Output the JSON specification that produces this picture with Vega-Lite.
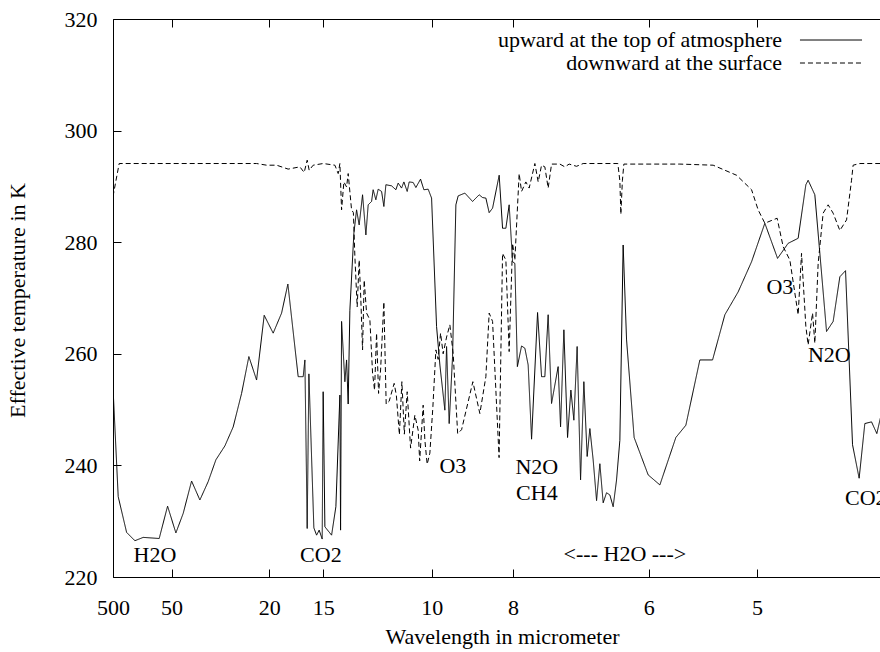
{
  "$schema": "https://vega.github.io/schema/vega-lite/v6.json",
  "width": 768,
  "height": 558,
  "autosize": {"type": "none"},
  "padding": {"left": 113, "top": 19, "right": 0, "bottom": 75},
  "background": "white",
  "config": {
    "view": {"stroke": "black", "strokeWidth": 1},
    "font": "Liberation Serif",
    "axis": {
      "labelFont": "Liberation Serif", "titleFont": "Liberation Serif",
      "labelFontSize": 22, "titleFontSize": 22, "titleFontWeight": "normal",
      "labelColor": "black", "titleColor": "black", "tickColor": "black", "domainColor": "black",
      "grid": false, "tickSize": -8, "domain": false
    },
    "text": {"font": "Liberation Serif", "fontSize": 22, "color": "black"}
  },
  "datasets": {
    "curves": [
      {"series": "upward at the top of atmosphere", "wn": 20, "T": 254},
      {"series": "upward at the top of atmosphere", "wn": 36, "T": 234.4},
      {"series": "upward at the top of atmosphere", "wn": 61.8, "T": 228},
      {"series": "upward at the top of atmosphere", "wn": 87.3, "T": 226.5},
      {"series": "upward at the top of atmosphere", "wn": 112.8, "T": 227.1},
      {"series": "upward at the top of atmosphere", "wn": 162, "T": 226.9},
      {"series": "upward at the top of atmosphere", "wn": 187.8, "T": 232.7},
      {"series": "upward at the top of atmosphere", "wn": 213.3, "T": 227.9},
      {"series": "upward at the top of atmosphere", "wn": 235.8, "T": 231.4},
      {"series": "upward at the top of atmosphere", "wn": 261.6, "T": 237.2},
      {"series": "upward at the top of atmosphere", "wn": 287.1, "T": 233.8},
      {"series": "upward at the top of atmosphere", "wn": 312.6, "T": 237.1},
      {"series": "upward at the top of atmosphere", "wn": 336.3, "T": 241},
      {"series": "upward at the top of atmosphere", "wn": 364, "T": 243.5},
      {"series": "upward at the top of atmosphere", "wn": 389.5, "T": 246.9},
      {"series": "upward at the top of atmosphere", "wn": 415.3, "T": 252.9},
      {"series": "upward at the top of atmosphere", "wn": 437.7, "T": 259.5},
      {"series": "upward at the top of atmosphere", "wn": 461.4, "T": 255.3},
      {"series": "upward at the top of atmosphere", "wn": 484.8, "T": 266.9},
      {"series": "upward at the top of atmosphere", "wn": 512.4, "T": 263.7},
      {"series": "upward at the top of atmosphere", "wn": 538.3, "T": 267.3},
      {"series": "upward at the top of atmosphere", "wn": 557.6, "T": 272.5},
      {"series": "upward at the top of atmosphere", "wn": 589.3, "T": 255.9},
      {"series": "upward at the top of atmosphere", "wn": 604.7, "T": 255.9},
      {"series": "upward at the top of atmosphere", "wn": 609.9, "T": 258.9},
      {"series": "upward at the top of atmosphere", "wn": 617, "T": 228.7},
      {"series": "upward at the top of atmosphere", "wn": 622.2, "T": 256.4},
      {"series": "upward at the top of atmosphere", "wn": 637.5, "T": 228.8},
      {"series": "upward at the top of atmosphere", "wn": 645.9, "T": 227.5},
      {"series": "upward at the top of atmosphere", "wn": 653.8, "T": 228.4},
      {"series": "upward at the top of atmosphere", "wn": 663.1, "T": 226.8},
      {"series": "upward at the top of atmosphere", "wn": 666.1, "T": 253.2},
      {"series": "upward at the top of atmosphere", "wn": 671.4, "T": 229},
      {"series": "upward at the top of atmosphere", "wn": 692, "T": 227.5},
      {"series": "upward at the top of atmosphere", "wn": 705.2, "T": 232.6},
      {"series": "upward at the top of atmosphere", "wn": 717.5, "T": 252.6},
      {"series": "upward at the top of atmosphere", "wn": 719.6, "T": 228.4},
      {"series": "upward at the top of atmosphere", "wn": 722.7, "T": 265.8},
      {"series": "upward at the top of atmosphere", "wn": 732.8, "T": 255},
      {"series": "upward at the top of atmosphere", "wn": 738.1, "T": 258.9},
      {"series": "upward at the top of atmosphere", "wn": 743, "T": 251},
      {"series": "upward at the top of atmosphere", "wn": 748.2, "T": 267.8},
      {"series": "upward at the top of atmosphere", "wn": 760.5, "T": 281.6},
      {"series": "upward at the top of atmosphere", "wn": 768.8, "T": 285.8},
      {"series": "upward at the top of atmosphere", "wn": 776.8, "T": 283.1},
      {"series": "upward at the top of atmosphere", "wn": 787.2, "T": 288.5},
      {"series": "upward at the top of atmosphere", "wn": 797.4, "T": 281.3},
      {"series": "upward at the top of atmosphere", "wn": 804.5, "T": 286.7},
      {"series": "upward at the top of atmosphere", "wn": 814.9, "T": 287.3},
      {"series": "upward at the top of atmosphere", "wn": 819.8, "T": 289.4},
      {"series": "upward at the top of atmosphere", "wn": 828.1, "T": 287.6},
      {"series": "upward at the top of atmosphere", "wn": 835.2, "T": 289.5},
      {"series": "upward at the top of atmosphere", "wn": 845.7, "T": 289.1},
      {"series": "upward at the top of atmosphere", "wn": 852.7, "T": 286.4},
      {"series": "upward at the top of atmosphere", "wn": 858.9, "T": 290.3},
      {"series": "upward at the top of atmosphere", "wn": 876.4, "T": 290.1},
      {"series": "upward at the top of atmosphere", "wn": 889.6, "T": 289.4},
      {"series": "upward at the top of atmosphere", "wn": 896.7, "T": 290.6},
      {"series": "upward at the top of atmosphere", "wn": 907.1, "T": 289.7},
      {"series": "upward at the top of atmosphere", "wn": 914.2, "T": 290.8},
      {"series": "upward at the top of atmosphere", "wn": 924.4, "T": 289.1},
      {"series": "upward at the top of atmosphere", "wn": 930.5, "T": 290.8},
      {"series": "upward at the top of atmosphere", "wn": 942.8, "T": 290.7},
      {"series": "upward at the top of atmosphere", "wn": 951.1, "T": 289.8},
      {"series": "upward at the top of atmosphere", "wn": 965.5, "T": 291.3},
      {"series": "upward at the top of atmosphere", "wn": 975.7, "T": 289.4},
      {"series": "upward at the top of atmosphere", "wn": 988.9, "T": 289.5},
      {"series": "upward at the top of atmosphere", "wn": 999.4, "T": 287.9},
      {"series": "upward at the top of atmosphere", "wn": 1014.7, "T": 264.9},
      {"series": "upward at the top of atmosphere", "wn": 1024.9, "T": 258},
      {"series": "upward at the top of atmosphere", "wn": 1040.2, "T": 249.9},
      {"series": "upward at the top of atmosphere", "wn": 1045.5, "T": 261.3},
      {"series": "upward at the top of atmosphere", "wn": 1053.5, "T": 247.5},
      {"series": "upward at the top of atmosphere", "wn": 1063.9, "T": 259.5},
      {"series": "upward at the top of atmosphere", "wn": 1074.1, "T": 286.7},
      {"series": "upward at the top of atmosphere", "wn": 1081.1, "T": 288.3},
      {"series": "upward at the top of atmosphere", "wn": 1101.7, "T": 288.8},
      {"series": "upward at the top of atmosphere", "wn": 1125.4, "T": 287.3},
      {"series": "upward at the top of atmosphere", "wn": 1145.7, "T": 288.5},
      {"series": "upward at the top of atmosphere", "wn": 1156.1, "T": 288},
      {"series": "upward at the top of atmosphere", "wn": 1166.3, "T": 287.9},
      {"series": "upward at the top of atmosphere", "wn": 1176.4, "T": 285.3},
      {"series": "upward at the top of atmosphere", "wn": 1186.9, "T": 286.1},
      {"series": "upward at the top of atmosphere", "wn": 1207.2, "T": 292},
      {"series": "upward at the top of atmosphere", "wn": 1217.6, "T": 282.5},
      {"series": "upward at the top of atmosphere", "wn": 1227.8, "T": 282.5},
      {"series": "upward at the top of atmosphere", "wn": 1237.9, "T": 286.7},
      {"series": "upward at the top of atmosphere", "wn": 1248.4, "T": 276.5},
      {"series": "upward at the top of atmosphere", "wn": 1255.4, "T": 276.2},
      {"series": "upward at the top of atmosphere", "wn": 1263.1, "T": 257.7},
      {"series": "upward at the top of atmosphere", "wn": 1276, "T": 261.4},
      {"series": "upward at the top of atmosphere", "wn": 1286.2, "T": 261},
      {"series": "upward at the top of atmosphere", "wn": 1296.3, "T": 258},
      {"series": "upward at the top of atmosphere", "wn": 1306.8, "T": 244.7},
      {"series": "upward at the top of atmosphere", "wn": 1325.2, "T": 267.4},
      {"series": "upward at the top of atmosphere", "wn": 1337.5, "T": 255.9},
      {"series": "upward at the top of atmosphere", "wn": 1347.6, "T": 255.9},
      {"series": "upward at the top of atmosphere", "wn": 1357.8, "T": 267},
      {"series": "upward at the top of atmosphere", "wn": 1368.2, "T": 251.1},
      {"series": "upward at the top of atmosphere", "wn": 1388.5, "T": 257.7},
      {"series": "upward at the top of atmosphere", "wn": 1395.9, "T": 246.9},
      {"series": "upward at the top of atmosphere", "wn": 1406.1, "T": 264.3},
      {"series": "upward at the top of atmosphere", "wn": 1417.4, "T": 245},
      {"series": "upward at the top of atmosphere", "wn": 1427.6, "T": 253.5},
      {"series": "upward at the top of atmosphere", "wn": 1436.8, "T": 248.1},
      {"series": "upward at the top of atmosphere", "wn": 1446.9, "T": 261.3},
      {"series": "upward at the top of atmosphere", "wn": 1457.4, "T": 237.4},
      {"series": "upward at the top of atmosphere", "wn": 1467.5, "T": 255},
      {"series": "upward at the top of atmosphere", "wn": 1477.7, "T": 241.6},
      {"series": "upward at the top of atmosphere", "wn": 1486, "T": 246.6},
      {"series": "upward at the top of atmosphere", "wn": 1496.1, "T": 241},
      {"series": "upward at the top of atmosphere", "wn": 1506.6, "T": 233.7},
      {"series": "upward at the top of atmosphere", "wn": 1516.7, "T": 240.3},
      {"series": "upward at the top of atmosphere", "wn": 1526.9, "T": 233.3},
      {"series": "upward at the top of atmosphere", "wn": 1537.3, "T": 235.1},
      {"series": "upward at the top of atmosphere", "wn": 1547.5, "T": 234.7},
      {"series": "upward at the top of atmosphere", "wn": 1557.6, "T": 232.6},
      {"series": "upward at the top of atmosphere", "wn": 1568, "T": 237.4},
      {"series": "upward at the top of atmosphere", "wn": 1578.2, "T": 244.5},
      {"series": "upward at the top of atmosphere", "wn": 1588.3, "T": 279.5},
      {"series": "upward at the top of atmosphere", "wn": 1598.8, "T": 262.5},
      {"series": "upward at the top of atmosphere", "wn": 1622.1, "T": 245},
      {"series": "upward at the top of atmosphere", "wn": 1665.2, "T": 238.3},
      {"series": "upward at the top of atmosphere", "wn": 1701.2, "T": 236.5},
      {"series": "upward at the top of atmosphere", "wn": 1750.3, "T": 245},
      {"series": "upward at the top of atmosphere", "wn": 1781.1, "T": 247.2},
      {"series": "upward at the top of atmosphere", "wn": 1824.1, "T": 258.9},
      {"series": "upward at the top of atmosphere", "wn": 1863.2, "T": 258.9},
      {"series": "upward at the top of atmosphere", "wn": 1901, "T": 267},
      {"series": "upward at the top of atmosphere", "wn": 1941.9, "T": 271.1},
      {"series": "upward at the top of atmosphere", "wn": 1983.1, "T": 276.5},
      {"series": "upward at the top of atmosphere", "wn": 2023.9, "T": 283.4},
      {"series": "upward at the top of atmosphere", "wn": 2063, "T": 277.1},
      {"series": "upward at the top of atmosphere", "wn": 2095.5, "T": 279.8},
      {"series": "upward at the top of atmosphere", "wn": 2126.3, "T": 280.7},
      {"series": "upward at the top of atmosphere", "wn": 2150, "T": 290.3},
      {"series": "upward at the top of atmosphere", "wn": 2157, "T": 291.1},
      {"series": "upward at the top of atmosphere", "wn": 2177.6, "T": 288.5},
      {"series": "upward at the top of atmosphere", "wn": 2213.6, "T": 264},
      {"series": "upward at the top of atmosphere", "wn": 2233.9, "T": 265.8},
      {"series": "upward at the top of atmosphere", "wn": 2254.5, "T": 273.8},
      {"series": "upward at the top of atmosphere", "wn": 2272, "T": 274.9},
      {"series": "upward at the top of atmosphere", "wn": 2293.5, "T": 243.7},
      {"series": "upward at the top of atmosphere", "wn": 2313.8, "T": 237.7},
      {"series": "upward at the top of atmosphere", "wn": 2331.3, "T": 247.5},
      {"series": "upward at the top of atmosphere", "wn": 2351.9, "T": 247.8},
      {"series": "upward at the top of atmosphere", "wn": 2368.2, "T": 245.7},
      {"series": "upward at the top of atmosphere", "wn": 2392.8, "T": 252},
      {"series": "downward at the surface", "wn": 20, "T": 288.2},
      {"series": "downward at the surface", "wn": 39, "T": 294.1},
      {"series": "downward at the surface", "wn": 461.4, "T": 294.1},
      {"series": "downward at the surface", "wn": 492.2, "T": 293.8},
      {"series": "downward at the surface", "wn": 523, "T": 293.8},
      {"series": "downward at the surface", "wn": 558.5, "T": 293.1},
      {"series": "downward at the surface", "wn": 594.5, "T": 293.5},
      {"series": "downward at the surface", "wn": 607.7, "T": 292.5},
      {"series": "downward at the surface", "wn": 617, "T": 294.7},
      {"series": "downward at the surface", "wn": 623.1, "T": 292.9},
      {"series": "downward at the surface", "wn": 635.4, "T": 293.8},
      {"series": "downward at the surface", "wn": 666.1, "T": 294.1},
      {"series": "downward at the surface", "wn": 702.1, "T": 293.8},
      {"series": "downward at the surface", "wn": 712.3, "T": 292.3},
      {"series": "downward at the surface", "wn": 717.5, "T": 294.1},
      {"series": "downward at the surface", "wn": 722.7, "T": 285.8},
      {"series": "downward at the surface", "wn": 729.8, "T": 290.8},
      {"series": "downward at the surface", "wn": 738.1, "T": 289.9},
      {"series": "downward at the surface", "wn": 743, "T": 292.3},
      {"series": "downward at the surface", "wn": 753.4, "T": 285.8},
      {"series": "downward at the surface", "wn": 759, "T": 285.3},
      {"series": "downward at the surface", "wn": 763.6, "T": 277.4},
      {"series": "downward at the surface", "wn": 770.7, "T": 268.4},
      {"series": "downward at the surface", "wn": 776.8, "T": 276.8},
      {"series": "downward at the surface", "wn": 782, "T": 269.6},
      {"series": "downward at the surface", "wn": 787.2, "T": 260.7},
      {"series": "downward at the surface", "wn": 792.2, "T": 273.2},
      {"series": "downward at the surface", "wn": 799.6, "T": 267.3},
      {"series": "downward at the surface", "wn": 809.7, "T": 266.1},
      {"series": "downward at the surface", "wn": 818, "T": 256.5},
      {"series": "downward at the surface", "wn": 824.1, "T": 253.5},
      {"series": "downward at the surface", "wn": 830.3, "T": 263.7},
      {"series": "downward at the surface", "wn": 836.4, "T": 252.9},
      {"series": "downward at the surface", "wn": 842.6, "T": 257.1},
      {"series": "downward at the surface", "wn": 852.7, "T": 269.3},
      {"series": "downward at the surface", "wn": 859.8, "T": 251},
      {"series": "downward at the surface", "wn": 869, "T": 251.5},
      {"series": "downward at the surface", "wn": 884.4, "T": 254.7},
      {"series": "downward at the surface", "wn": 891.2, "T": 252.5},
      {"series": "downward at the surface", "wn": 900.4, "T": 245.5},
      {"series": "downward at the surface", "wn": 908.1, "T": 255},
      {"series": "downward at the surface", "wn": 915.7, "T": 245.6},
      {"series": "downward at the surface", "wn": 924.4, "T": 253.2},
      {"series": "downward at the surface", "wn": 934.8, "T": 243.1},
      {"series": "downward at the surface", "wn": 948, "T": 249},
      {"series": "downward at the surface", "wn": 958.2, "T": 246.3},
      {"series": "downward at the surface", "wn": 962.8, "T": 240.8},
      {"series": "downward at the surface", "wn": 973.5, "T": 250.8},
      {"series": "downward at the surface", "wn": 978.8, "T": 244.5},
      {"series": "downward at the surface", "wn": 985.8, "T": 240.2},
      {"series": "downward at the surface", "wn": 994.1, "T": 242.2},
      {"series": "downward at the surface", "wn": 1003.4, "T": 250.5},
      {"series": "downward at the surface", "wn": 1012.6, "T": 260.7},
      {"series": "downward at the surface", "wn": 1019.6, "T": 259},
      {"series": "downward at the surface", "wn": 1027, "T": 263.7},
      {"series": "downward at the surface", "wn": 1035, "T": 260},
      {"series": "downward at the surface", "wn": 1045.5, "T": 263},
      {"series": "downward at the surface", "wn": 1055.6, "T": 265.2},
      {"series": "downward at the surface", "wn": 1065.8, "T": 260},
      {"series": "downward at the surface", "wn": 1079.6, "T": 245.7},
      {"series": "downward at the surface", "wn": 1091.6, "T": 246.4},
      {"series": "downward at the surface", "wn": 1126.3, "T": 255},
      {"series": "downward at the surface", "wn": 1147.8, "T": 249.3},
      {"series": "downward at the surface", "wn": 1166.3, "T": 255.9},
      {"series": "downward at the surface", "wn": 1176.4, "T": 267.3},
      {"series": "downward at the surface", "wn": 1186.9, "T": 265.8},
      {"series": "downward at the surface", "wn": 1206.9, "T": 241.4},
      {"series": "downward at the surface", "wn": 1217.6, "T": 278},
      {"series": "downward at the surface", "wn": 1227.8, "T": 276.8},
      {"series": "downward at the surface", "wn": 1237.9, "T": 260.4},
      {"series": "downward at the surface", "wn": 1248.4, "T": 279.8},
      {"series": "downward at the surface", "wn": 1255.4, "T": 276.8},
      {"series": "downward at the surface", "wn": 1268.6, "T": 292.3},
      {"series": "downward at the surface", "wn": 1276, "T": 289.1},
      {"series": "downward at the surface", "wn": 1289.2, "T": 290.8},
      {"series": "downward at the surface", "wn": 1299.4, "T": 289.7},
      {"series": "downward at the surface", "wn": 1316.9, "T": 294.1},
      {"series": "downward at the surface", "wn": 1327.1, "T": 290.8},
      {"series": "downward at the surface", "wn": 1337.5, "T": 293.8},
      {"series": "downward at the surface", "wn": 1347.6, "T": 293.5},
      {"series": "downward at the surface", "wn": 1357.8, "T": 289.7},
      {"series": "downward at the surface", "wn": 1368.2, "T": 294},
      {"series": "downward at the surface", "wn": 1393.8, "T": 294},
      {"series": "downward at the surface", "wn": 1409.1, "T": 293.5},
      {"series": "downward at the surface", "wn": 1422.3, "T": 294},
      {"series": "downward at the surface", "wn": 1445.1, "T": 293.6},
      {"series": "downward at the surface", "wn": 1465.4, "T": 294.1},
      {"series": "downward at the surface", "wn": 1572, "T": 294.1},
      {"series": "downward at the surface", "wn": 1578.2, "T": 291},
      {"series": "downward at the surface", "wn": 1581.3, "T": 285},
      {"series": "downward at the surface", "wn": 1585.9, "T": 291},
      {"series": "downward at the surface", "wn": 1590.5, "T": 294},
      {"series": "downward at the surface", "wn": 1762.6, "T": 294},
      {"series": "downward at the surface", "wn": 1865, "T": 293.8},
      {"series": "downward at the surface", "wn": 1936.9, "T": 292},
      {"series": "downward at the surface", "wn": 1983.1, "T": 289.4},
      {"series": "downward at the surface", "wn": 2003.3, "T": 285.8},
      {"series": "downward at the surface", "wn": 2023.9, "T": 283.4},
      {"series": "downward at the surface", "wn": 2061.7, "T": 284.3},
      {"series": "downward at the surface", "wn": 2080.2, "T": 279.2},
      {"series": "downward at the surface", "wn": 2100.8, "T": 276.8},
      {"series": "downward at the surface", "wn": 2126.3, "T": 267},
      {"series": "downward at the surface", "wn": 2136.7, "T": 278},
      {"series": "downward at the surface", "wn": 2150, "T": 264.9},
      {"series": "downward at the surface", "wn": 2157, "T": 261.6},
      {"series": "downward at the surface", "wn": 2170.6, "T": 267.3},
      {"series": "downward at the surface", "wn": 2177.6, "T": 261.9},
      {"series": "downward at the surface", "wn": 2187.8, "T": 276.2},
      {"series": "downward at the surface", "wn": 2203.1, "T": 285.2},
      {"series": "downward at the surface", "wn": 2218.5, "T": 286.7},
      {"series": "downward at the surface", "wn": 2233.9, "T": 285.2},
      {"series": "downward at the surface", "wn": 2254.5, "T": 282.1},
      {"series": "downward at the surface", "wn": 2275.1, "T": 284},
      {"series": "downward at the surface", "wn": 2290.4, "T": 291.1},
      {"series": "downward at the surface", "wn": 2295.3, "T": 293.8},
      {"series": "downward at the surface", "wn": 2316, "T": 294.1},
      {"series": "downward at the surface", "wn": 2392.8, "T": 294.1}
    ],
    "labels": [
      {"label": "H2O", "wn": 148.8, "T": 223.9},
      {"label": "CO2", "wn": 659, "T": 223.9},
      {"label": "O3", "wn": 1064.8, "T": 239.9},
      {"label": "N2O", "wn": 1323, "T": 239.7},
      {"label": "CH4", "wn": 1323, "T": 235.1},
      {"label": "<--- H2O --->", "wn": 1593.6, "T": 224.1},
      {"label": "O3", "wn": 2070, "T": 272},
      {"label": "N2O", "wn": 2222.2, "T": 259.8},
      {"label": "CO2", "wn": 2334.4, "T": 234.2}
    ]
  },
  "resolve": {"axis": {"x": "independent"}},
  "layer": [
    {
      "data": {"name": "curves"},
      "mark": {"type": "line", "clip": true, "strokeWidth": 1, "color": "black"},
      "encoding": {
        "x": {
          "field": "wn", "type": "quantitative",
          "scale": {"domain": [20, 2381], "nice": false, "zero": false},
          "axis": {
            "orient": "bottom", "title": "Wavelength in micrometer",
            "values": [20, 200, 500, 666.667, 1000, 1250, 1666.667, 2000],
            "labelExpr": "format(10000 / datum.value, '.0f')",
            "labelPadding": 28, "labelBaseline": "top", "labelFlush": false,
            "titleX": 389, "titleY": 66, "titleBaseline": "alphabetic", "titleAnchor": null
          }
        },
        "y": {
          "field": "T", "type": "quantitative",
          "scale": {"domain": [220, 320], "nice": false, "zero": false},
          "axis": {
            "orient": "left", "title": "Effective temperature in K",
            "values": [220, 240, 260, 280, 300, 320],
            "labelPadding": 24, "labelFlush": false,
            "titleX": -89, "titleY": 281, "titleAngle": -90, "titleAlign": "center", "titleBaseline": "alphabetic"
          }
        },
        "strokeDash": {
          "field": "series", "type": "nominal",
          "scale": {"domain": ["upward at the top of atmosphere", "downward at the surface"], "range": [[1, 0], [5, 3]]},
          "legend": {
            "orient": "none", "legendX": 707, "legendY": 10, "title": null,
            "symbolType": "M-5,0L5,0", "symbolSize": 154, "symbolStrokeWidth": 1, "symbolStrokeColor": "black",
            "labelFont": "Liberation Serif", "labelFontSize": 22, "labelColor": "black",
            "labelAlign": "right", "labelOffset": -60, "labelLimit": 0, "rowPadding": 1
          }
        }
      }
    },
    {
      "data": {"name": "labels"},
      "mark": {"type": "text", "align": "center", "baseline": "middle", "font": "Liberation Serif", "fontSize": 22, "color": "black"},
      "encoding": {
        "x": {
          "field": "wn", "type": "quantitative",
          "axis": {
            "orient": "top", "title": null, "labels": false,
            "values": [20, 200, 500, 666.667, 1000, 1250, 1666.667, 2000]
          }
        },
        "y": {
          "field": "T", "type": "quantitative"
        },
        "text": {"field": "label"}
      }
    }
  ]
}
